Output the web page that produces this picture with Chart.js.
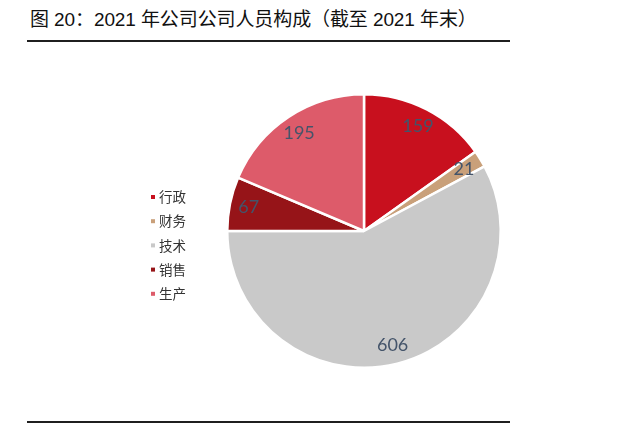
<!DOCTYPE html>
<html>
<head>
<meta charset="utf-8">
<script src="https://cdn.jsdelivr.net/npm/chart.js@4.4.0/dist/chart.umd.min.js"></script>
<style>
  html, body { margin:0; padding:0; background:#fff; }
  #wrap { position:relative; width:640px; height:427px; overflow:hidden; }
  #title { position:absolute; left:30px; top:6px; font-family:"Liberation Sans","Noto Sans CJK SC",sans-serif; font-size:19px; letter-spacing:-0.1px; color:#111; white-space:nowrap; line-height:28px; }
  .rule { position:absolute; left:27px; width:483px; height:2px; background:#1f1f1f; }
  #c { position:absolute; left:0; top:0; }
</style>
</head>
<body>
<div id="wrap">
  <div id="title">图 20：2021 年公司公司人员构成（截至 2021 年末）</div>
  <div class="rule" style="top:40px;"></div>
  <canvas id="c" width="640" height="427"></canvas>
  <div class="rule" style="top:421px;"></div>
</div>
<script>
const categories = ["行政", "财务", "技术", "销售", "生产"];
const values = [159, 21, 606, 67, 195];
const colors = ["#C8101E", "#C9A07A", "#C9C9C9", "#961418", "#DD5B6A"];

const labelPlugin = {
  id: "sliceLabels",
  afterDatasetsDraw(chart) {
    const ctx = chart.ctx;
    const meta = chart.getDatasetMeta(0);
    const ds = chart.data.datasets[0];
    ctx.save();
    ctx.font = "18px Lato, 'Liberation Sans', sans-serif";
    ctx.fillStyle = "#44546A";
    ctx.textAlign = "center";
    ctx.textBaseline = "middle";
    meta.data.forEach((arc, i) => {
      const p = arc.getProps(["x","y","startAngle","endAngle","outerRadius"], true);
      const mid = (p.startAngle + p.endAngle) / 2;
      const r = p.outerRadius * 0.86;
      ctx.fillText(String(ds.data[i]), p.x + Math.cos(mid) * r, p.y + Math.sin(mid) * r);
    });
    ctx.restore();
  }
};

const legendPlugin = {
  id: "leftLegend",
  afterDraw(chart) {
    const ctx = chart.ctx;
    const ds = chart.data.datasets[0];
    const x0 = 151, y0 = 197, step = 24.2;
    ctx.save();
    ctx.font = "13.5px 'Noto Sans CJK SC', sans-serif";
    ctx.textBaseline = "middle";
    ctx.textAlign = "left";
    chart.data.labels.forEach((lab, i) => {
      const y = y0 + i * step;
      ctx.fillStyle = ds.backgroundColor[i];
      ctx.fillRect(x0, y - 2, 4, 4);
      ctx.fillStyle = "#333333";
      ctx.fillText(lab, x0 + 8, y);
    });
    ctx.restore();
  }
};

new Chart(document.getElementById("c"), {
  type: "pie",
  data: {
    labels: categories,
    datasets: [{
      data: values,
      backgroundColor: colors,
      borderColor: "#ffffff",
      borderWidth: 2.5
    }]
  },
  options: {
    responsive: false,
    animation: false,
    devicePixelRatio: 1,
    layout: { padding: { left: 226, right: 138, top: 93, bottom: 58 } },
    plugins: {
      legend: { display: false },
      tooltip: { enabled: false },
      title: { display: false }
    }
  },
  plugins: [labelPlugin, legendPlugin]
});
</script>
</body>
</html>
